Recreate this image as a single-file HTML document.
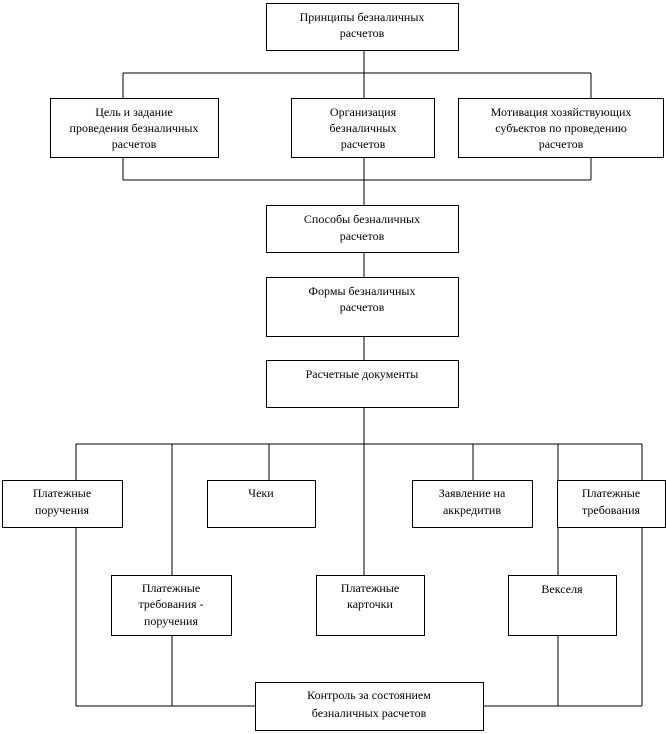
<!DOCTYPE html>
<html><head><meta charset="utf-8"><style>
html,body{margin:0;padding:0;background:#fff}
svg{display:block}
text{font-family:"Liberation Serif",serif;font-size:12px;fill:#000;text-anchor:middle}
</style></head><body>
<svg width="666" height="734" viewBox="0 0 666 734" xmlns="http://www.w3.org/2000/svg">
<g stroke="#000" stroke-width="1" fill="none" shape-rendering="crispEdges">
<!-- top connectors -->
<line x1="364" y1="50" x2="364" y2="73"/>
<line x1="123" y1="73" x2="591" y2="73"/>
<line x1="123" y1="73" x2="123" y2="98"/>
<line x1="591" y1="73" x2="591" y2="98"/>
<line x1="364" y1="73" x2="364" y2="98"/>
<line x1="123" y1="157" x2="123" y2="180"/>
<line x1="591" y1="157" x2="591" y2="180"/>
<line x1="123" y1="180" x2="591" y2="180"/>
<line x1="364" y1="157" x2="364" y2="205"/>
<line x1="364" y1="253" x2="364" y2="277"/>
<line x1="364" y1="337" x2="364" y2="360"/>
<line x1="364" y1="408" x2="364" y2="575"/>
<!-- lower bus -->
<line x1="76" y1="444" x2="642" y2="444"/>
<line x1="76" y1="444" x2="76" y2="706"/>
<line x1="172" y1="444" x2="172" y2="706"/>
<line x1="269" y1="444" x2="269" y2="480"/>
<line x1="473" y1="444" x2="473" y2="480"/>
<line x1="558" y1="444" x2="558" y2="706"/>
<line x1="642" y1="444" x2="642" y2="706"/>
<line x1="76" y1="706" x2="642" y2="706"/>
</g>
<g stroke="#000" stroke-width="1" fill="#fff" shape-rendering="crispEdges">
<rect x="266.5" y="3.5" width="192" height="47"/>
<rect x="50.5" y="98.5" width="168" height="59"/>
<rect x="291.5" y="98.5" width="143" height="59"/>
<rect x="458.5" y="98.5" width="205" height="59"/>
<rect x="266.5" y="205.5" width="192" height="47"/>
<rect x="266.5" y="277.5" width="192" height="59"/>
<rect x="266.5" y="360.5" width="192" height="47"/>
<rect x="2.5" y="480.5" width="120" height="47"/>
<rect x="207.5" y="480.5" width="108" height="47"/>
<rect x="412.5" y="480.5" width="120" height="47"/>
<rect x="557.5" y="480.5" width="108" height="47"/>
<rect x="111.5" y="575.5" width="120" height="60"/>
<rect x="316.5" y="575.5" width="108" height="60"/>
<rect x="508.5" y="575.5" width="108" height="60"/>
<rect x="255.5" y="682.5" width="228" height="48"/>
</g>
<text x="362" y="21">Принципы безналичных</text>
<text x="362" y="37">расчетов</text>
<text x="134" y="116">Цель  и задание</text>
<text x="134" y="132">проведения безналичных</text>
<text x="134" y="148">расчетов</text>
<text x="363" y="116">Организация</text>
<text x="363" y="132">безналичных</text>
<text x="363" y="148">расчетов</text>
<text x="561" y="116">Мотивация хозяйствующих</text>
<text x="561" y="132">субъектов по проведению</text>
<text x="561" y="148">расчетов</text>
<text x="362" y="223">Способы безналичных</text>
<text x="362" y="240">расчетов</text>
<text x="362" y="295">Формы безналичных</text>
<text x="362" y="311">расчетов</text>
<text x="362" y="378">Расчетные документы</text>
<text x="62" y="497">Платежные</text>
<text x="62" y="514">поручения</text>
<text x="261" y="497">Чеки</text>
<text x="472" y="497">Заявление на</text>
<text x="472" y="514">аккредитив</text>
<text x="611" y="497">Платежные</text>
<text x="611" y="514">требования</text>
<text x="171" y="592">Платежные</text>
<text x="171" y="608">требования -</text>
<text x="171" y="625">поручения</text>
<text x="370" y="592">Платежные</text>
<text x="370" y="608">карточки</text>
<text x="562" y="593">Векселя</text>
<text x="369" y="699">Контроль за состоянием</text>
<text x="369" y="717">безналичных  расчетов</text>
</svg>
</body></html>
